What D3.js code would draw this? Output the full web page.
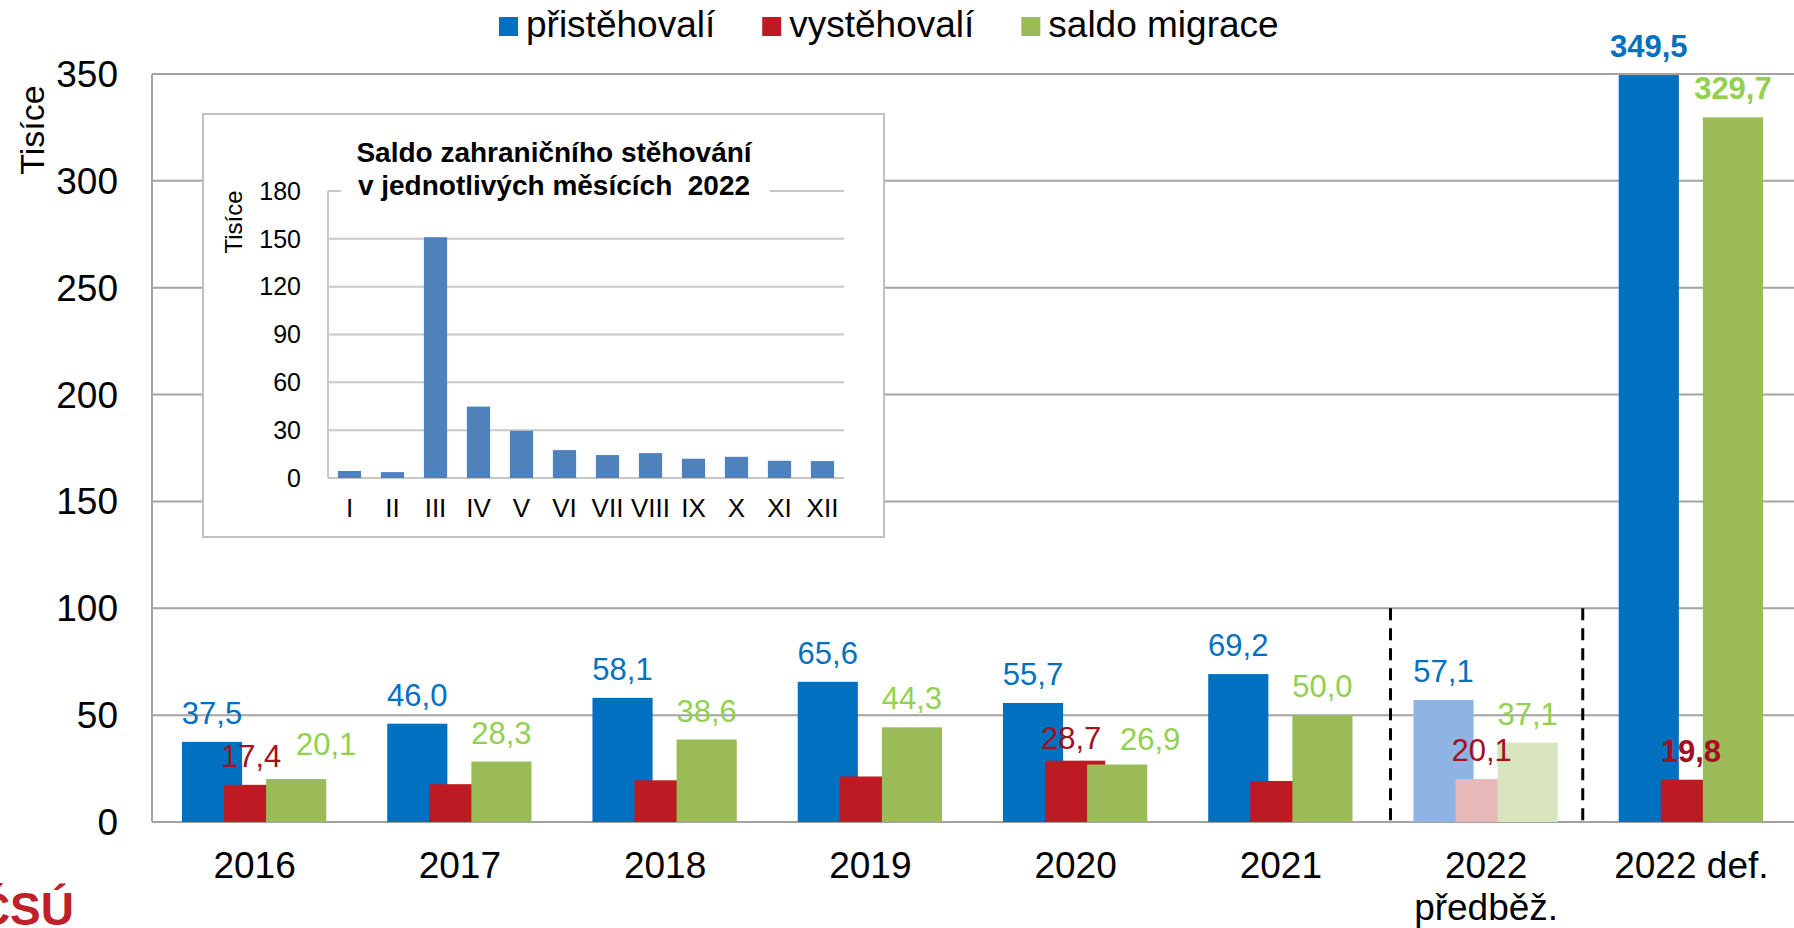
<!DOCTYPE html>
<html>
<head>
<meta charset="utf-8">
<script src="https://cdn.jsdelivr.net/npm/d3@7"></script>
<style>
	body { margin: 0; background: white; }
	svg { display: block; font-family: "Liberation Sans", Arial, sans-serif; }
</style>
</head>
<body>
<svg id="chart" width="1794" height="928"></svg>
<script>
const years = ["2016", "2017", "2018", "2019", "2020", "2021", "2022", "2022 def."];
const immigrants = [37.5, 46.0, 58.1, 65.6, 55.7, 69.2, 57.1, 349.5];
const emigrants = [17.4, 17.7, 19.5, 21.3, 28.7, 19.2, 20.1, 19.8];
const netMigration = [20.1, 28.3, 38.6, 44.3, 26.9, 50.0, 37.1, 329.7];
const emigrantLabelYears = ["2016", "2020", "2022", "2022 def."];
const yTicks = [0, 50, 100, 150, 200, 250, 300, 350];
const legendLabels = ["přistěhovalí", "vystěhovalí", "saldo migrace"];

const months = ["I", "II", "III", "IV", "V", "VI", "VII", "VIII", "IX", "X", "XI", "XII"];
const monthlyNet = [4.4, 3.7, 151.0, 44.8, 29.6, 17.5, 14.4, 15.6, 12.1, 13.3, 10.8, 10.6];
const insetTicks = [0, 30, 60, 90, 120, 150, 180];

const barColors = ["#0070c0", "#be1a24", "#9bbb59"];
const lightColors = ["#8eb4e3", "#e6b9b8", "#d7e4bd"];
const labelColors = ["#0070c0", "#a50f22", "#92d050"];

// labels that were dragged by hand in the original (key: year|series) -> [dx, dy]
const labelNudge = {
	"2016|1": [-3, 0],
	"2016|2": [30, -6],
	"2020|1": [-4, 6],
	"2020|2": [33, 3],
	"2022|1": [-4, 0],
};

const fmt = (v) => d3.format(".1f")(v).replace(".", ",");

const svg = d3.select("#chart");

const x = d3.scaleBand(years, [152, 1794]);
const y = d3.scaleLinear([0, 350], [822, 74]);
const bw = x.bandwidth();
const barW = bw * 0.293;
const step = bw * 0.205;
const offset = bw * 0.146;

// gridlines + axis
svg.append("g")
	.selectAll("line")
	.data(yTicks)
	.join("line")
	.attr("x1", 152)
	.attr("x2", 1794)
	.attr("y1", (d) => y(d))
	.attr("y2", (d) => y(d))
	.attr("stroke", "#a3a3a3")
	.attr("stroke-width", 2);

svg.append("line")
	.attr("x1", 152).attr("x2", 152)
	.attr("y1", y(350)).attr("y2", y(0))
	.attr("stroke", "#a3a3a3")
	.attr("stroke-width", 2);

svg.append("g")
	.selectAll("text")
	.data(yTicks)
	.join("text")
	.attr("x", 118)
	.attr("y", (d) => y(d))
	.attr("dy", "0.35em")
	.attr("text-anchor", "end")
	.style("font-size", "37px")
	.text((d) => d);

svg.append("text")
	.attr("transform", "translate(32,130) rotate(-90)")
	.attr("text-anchor", "middle")
	.attr("dominant-baseline", "central")
	.style("font-size", "34px")
	.text("Tisíce");

drawInset();

const rows = years.map((yr, i) => ({
	year: yr,
	values: [immigrants[i], emigrants[i], netMigration[i]],
}));

rows.forEach((row) => {
	const g = svg.append("g");
	const light = row.year === "2022";
	row.values.forEach((v, s) => {
		g.append("rect")
			.attr("x", x(row.year) + offset + s * step)
			.attr("y", y(v))
			.attr("width", barW)
			.attr("height", y(0) - y(v))
			.attr("fill", light ? lightColors[s] : barColors[s]);
	});
});

// dashed separators around the preliminary 2022 value
svg.append("g")
	.selectAll("line")
	.data([x("2022") + 7, x("2022 def.") - 6])
	.join("line")
	.attr("x1", (d) => d)
	.attr("x2", (d) => d)
	.attr("y1", y(100))
	.attr("y2", y(0))
	.attr("stroke", "black")
	.attr("stroke-width", 3)
	.attr("stroke-dasharray", "12,8");

// data labels
rows.forEach((row) => {
	const bold = row.year === "2022 def.";
	row.values.forEach((v, s) => {
		if (s === 1 && !emigrantLabelYears.includes(row.year)) return;
		const [dx, dy] = labelNudge[`${row.year}|${s}`] || [0, 0];
		svg.append("text")
			.attr("x", x(row.year) + offset + s * step + barW / 2 + dx)
			.attr("y", y(v) - 18 + dy)
			.attr("text-anchor", "middle")
			.attr("fill", labelColors[s])
			.style("font-size", "31px")
			.style("font-weight", bold ? "700" : "400")
			.text(fmt(v));
	});
});

// category labels
const cat = svg.append("g");
years.forEach((yr) => {
	const cx = x(yr) + bw / 2;
	cat.append("text").attr("x", cx).attr("y", 878).attr("text-anchor", "middle")
		.style("font-size", "37px").text(yr);
	if (yr === "2022") {
		cat.append("text").attr("x", cx).attr("y", 920).attr("text-anchor", "middle")
			.style("font-size", "37px").text("předběž.");
	}
});

// legend
let lx = 499;
const legend = svg.append("g");
legendLabels.forEach((name, i) => {
	legend.append("rect")
		.attr("x", lx).attr("y", 17)
		.attr("width", 19).attr("height", 19)
		.attr("fill", barColors[i]);
	const t = legend.append("text")
		.attr("x", lx + 27).attr("y", 37)
		.style("font-size", "37px")
		.text(name);
	lx += 27 + t.node().getComputedTextLength() + 47;
});

// logo fragment bottom-left
svg.append("text")
	.attr("x", 74).attr("y", 925)
	.attr("text-anchor", "end")
	.attr("fill", "#c0202a")
	.style("font-size", "46px")
	.style("font-weight", "700")
	.text("ČSÚ");

function drawInset() {
	const box = svg.append("g");
	box.append("rect")
		.attr("x", 203).attr("y", 114)
		.attr("width", 681).attr("height", 423)
		.attr("fill", "white")
		.attr("stroke", "#c0c0c0")
		.attr("stroke-width", 2);

	const ix = d3.scaleBand(months, [328, 844]).paddingInner(0.46).paddingOuter(0.23);
	const iy = d3.scaleLinear([0, 180], [478, 191]);

	box.append("g")
		.selectAll("line")
		.data(insetTicks)
		.join("line")
		.attr("x1", 328).attr("x2", 844)
		.attr("y1", (d) => iy(d)).attr("y2", (d) => iy(d))
		.attr("stroke", "#c8c8c8")
		.attr("stroke-width", 2);

	box.append("line")
		.attr("x1", 328).attr("x2", 328)
		.attr("y1", iy(180)).attr("y2", iy(0))
		.attr("stroke", "#c8c8c8")
		.attr("stroke-width", 2);

	box.append("g")
		.selectAll("rect")
		.data(monthlyNet)
		.join("rect")
		.attr("x", (d, i) => ix(months[i]))
		.attr("y", (d) => iy(d))
		.attr("width", ix.bandwidth())
		.attr("height", (d) => iy(0) - iy(d))
		.attr("fill", "#4f81bd");

	box.append("g")
		.selectAll("text")
		.data(insetTicks)
		.join("text")
		.attr("x", 301)
		.attr("y", (d) => iy(d))
		.attr("dy", "0.35em")
		.attr("text-anchor", "end")
		.style("font-size", "25px")
		.text((d) => d);

	box.append("g")
		.selectAll("text")
		.data(months)
		.join("text")
		.attr("x", (d) => ix(d) + ix.bandwidth() / 2)
		.attr("y", 517)
		.attr("text-anchor", "middle")
		.style("font-size", "26px")
		.text((d) => d);

	box.append("text")
		.attr("transform", "translate(233,222) rotate(-90)")
		.attr("text-anchor", "middle")
		.attr("dominant-baseline", "central")
		.style("font-size", "24px")
		.text("Tisíce");

	box.append("rect")
		.attr("x", 341).attr("y", 134)
		.attr("width", 429).attr("height", 70)
		.attr("fill", "white");

	const title = box.append("text")
		.attr("text-anchor", "middle")
		.style("font-size", "28px")
		.style("font-weight", "700")
		.style("white-space", "pre");
	title.append("tspan").attr("x", 554).attr("y", 162).text("Saldo zahraničního stěhování");
	title.append("tspan").attr("x", 554).attr("y", 195).text("v jednotlivých měsících  2022");
}
</script>
</body>
</html>
